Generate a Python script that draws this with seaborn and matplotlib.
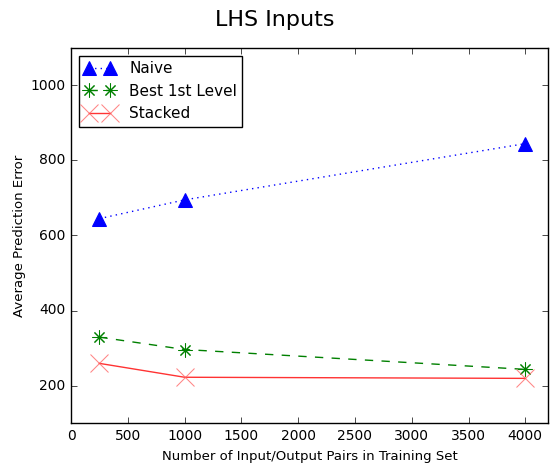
import matplotlib
matplotlib.use('Agg')
import matplotlib.pyplot as plt
import seaborn as sns
import pandas as pd

# data
train_sizes = [250, 1000, 4000]
naive_err = [645, 695, 845]
best_first_err = [329, 296, 243]
stacked_err = [259, 222, 219]

plt.style.use('classic')
plt.rcParams['font.family'] = ['DejaVu Sans']

fig = plt.figure(figsize=(5.5, 4.65), dpi=100)
fig.patch.set_facecolor('white')
ax = fig.add_axes([71 / 550, 42 / 465, 477 / 550, 375 / 465])

df = pd.DataFrame({'n': train_sizes, 'Naive': naive_err,
                   'Best 1st Level': best_first_err, 'Stacked': stacked_err})

sns.lineplot(data=df, x='n', y='Naive', ax=ax, color='blue', linestyle=':',
             marker='^', markersize=10, markeredgecolor='blue', label='Naive')
sns.lineplot(data=df, x='n', y='Best 1st Level', ax=ax, color='green', linestyle='--',
             marker=(8, 2, 0), markersize=10, markeredgecolor='green', label='Best 1st Level')
sns.lineplot(data=df, x='n', y='Stacked', ax=ax, color='red', linestyle='-', alpha=0.8,
             marker='x', markersize=13, markeredgecolor='#ff6666', label='Stacked')

ax.set_xlim(0, 4200)
ax.set_ylim(100, 1100)
ax.set_xticks(range(0, 4001, 500))
ax.set_yticks([200, 400, 600, 800, 1000])
ax.tick_params(labelsize=10)
ax.set_xlabel('Number of Input/Output Pairs in Training Set', fontsize=9.5)
ax.set_ylabel('Average Prediction Error', fontsize=9.5, labelpad=3)
fig.suptitle('LHS Inputs', fontsize=16, y=0.957, va='center')

ax.legend(loc='upper left', numpoints=2, fontsize=11, handlelength=2.0,
          labelspacing=0.5, borderpad=0.35, handletextpad=0.95)

fig.savefig('out.png', dpi=100, facecolor='white')
